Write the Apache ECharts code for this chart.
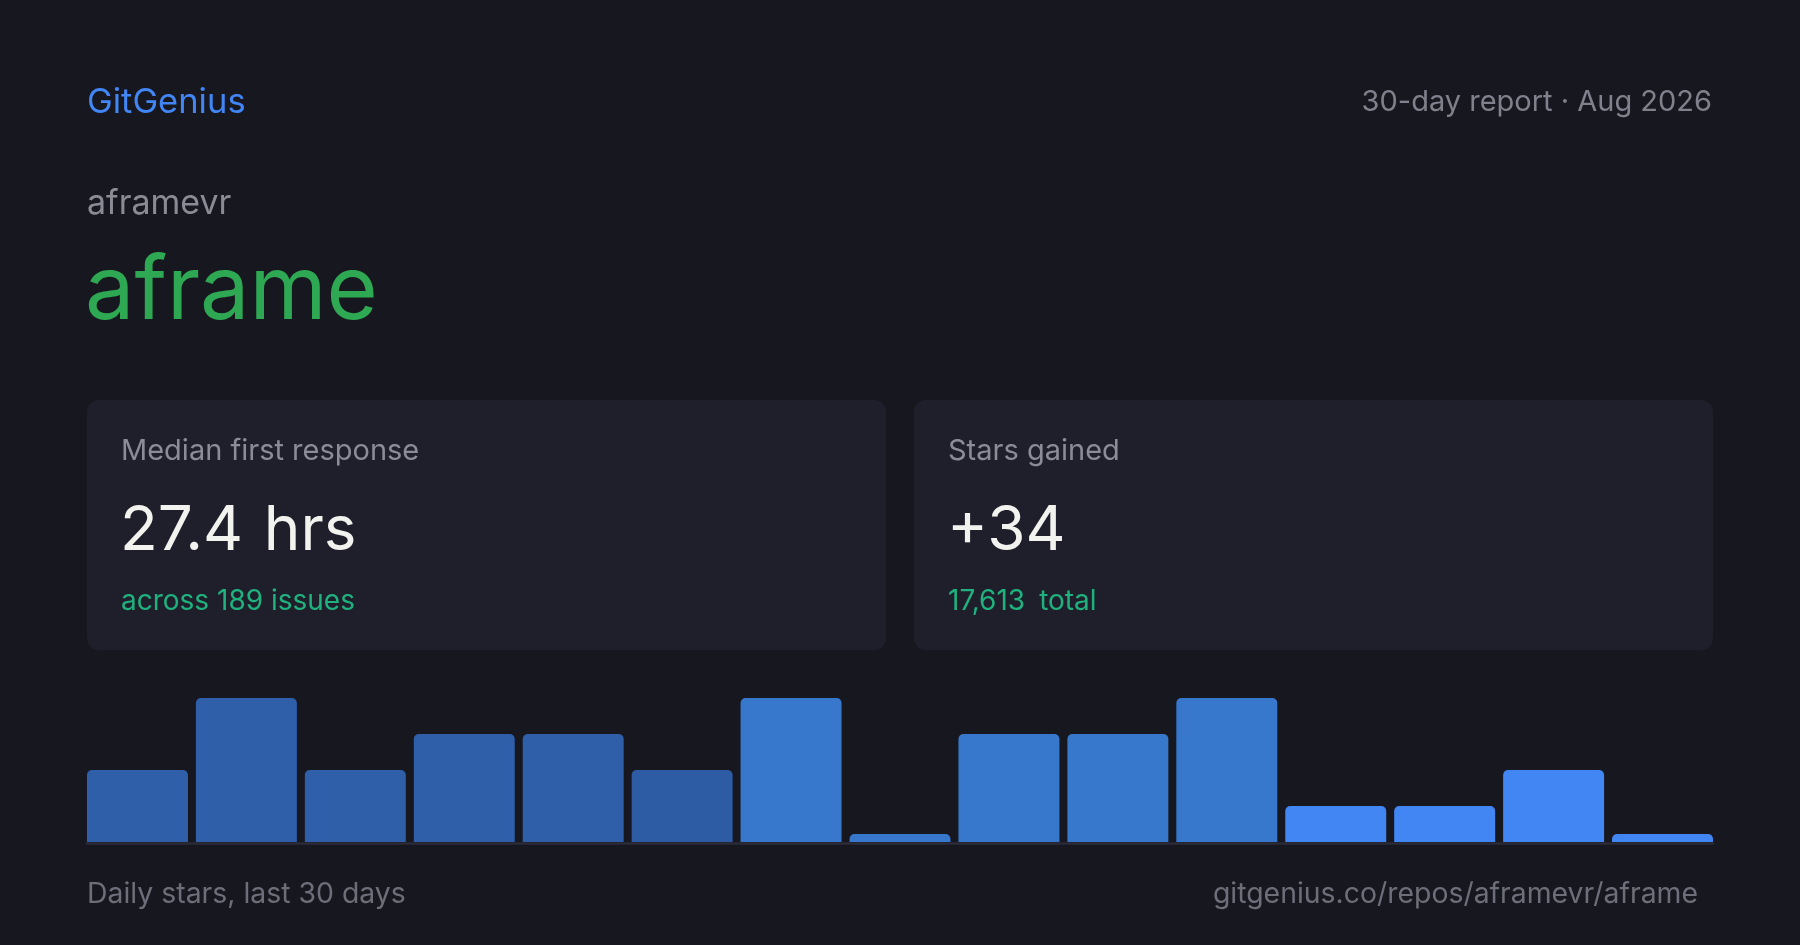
<!DOCTYPE html>
<html>
<head>
<meta charset="utf-8">
<script src="https://cdn.jsdelivr.net/npm/echarts@6/dist/echarts.min.js"></script>
<style>
html,body{margin:0;padding:0;background:#16171f;}
#c{width:1800px;height:945px;}
</style>
</head>
<body>
<div id="c"></div>
<script>
// ---- data ----
const days = ['1','2','3','4','5','6','7','8','9','10','11','12','13','14','15'];
const dailyStars = [2, 4, 2, 3, 3, 2, 4, 0, 3, 3, 4, 1, 1, 2, 0];
const brand = 'GitGenius';
const reportLabel = '30-day report · Aug 2026';
const owner = 'aframevr';
const repo = 'aframe';
const card1 = { label: 'Median first response', value: '27.4\u2004hrs', sub: 'across 189 issues' };
const card2 = { label: 'Stars gained', value: '+34', sub: '17,613\u2002total' };
const footLeft = 'Daily stars, last 30 days';
const footRight = 'gitgenius.co/repos/aframevr/aframe';

// ---- styles ----
const FONT = 'Inter, "Noto Sans", sans-serif';
function barColor(i) {
  if (i < 5) return '#2e5fa8';
  if (i < 6) return '#2d5ca4';
  if (i < 11) return '#3778cc';
  return '#4286f4';
}
function txt(x, y, text, size, color, align) {
  return {
    type: 'text', x: x, y: y, silent: true,
    style: { text: text, fontFamily: FONT, fontSize: size, fill: color,
             align: align || 'left', verticalAlign: 'middle' }
  };
}
function card(x, d) {
  return [
    { type: 'rect', shape: { x: x, y: 400, width: 799, height: 250, r: 12 },
      style: { fill: '#1f1f2b' }, silent: true },
    txt(x + 34, 451, d.label, 29, '#8b8c97'),
    txt(x + 33, 531, d.value, 62, '#f2f2ef'),
    txt(x + 34, 602, d.sub, 28, '#1fb27e')
  ];
}

const chart = echarts.init(document.getElementById('c'));
chart.setOption({
  backgroundColor: '#16171f',
  animation: false,
  grid: [
    { left: 83, right: 83, top: 698, bottom: 103 },
    { left: 87, right: 87, top: 600, bottom: 102 }
  ],
  xAxis: [
    { type: 'category', data: days, gridIndex: 0, show: false },
    { type: 'value', gridIndex: 1, min: 0, max: 1,
      axisLine: { show: true, lineStyle: { color: '#2a2b37', width: 2.5 } },
      axisTick: { show: false }, axisLabel: { show: false }, splitLine: { show: false } }
  ],
  yAxis: [
    { type: 'value', min: 0, max: 4, gridIndex: 0, show: false },
    { type: 'value', gridIndex: 1, show: false }
  ],
  series: [{
    type: 'bar',
    xAxisIndex: 0, yAxisIndex: 0,
    data: dailyStars.map((v, i) => ({ value: v, itemStyle: { color: barColor(i) } })),
    barCategoryGap: '7.3%',
    barMinHeight: 8,
    itemStyle: { borderRadius: [5, 5, 0, 0] },
    z: 3
  }],
  graphic: [
    txt(87, 103, brand, 34.5, '#4285f4'),
    txt(1712, 102, reportLabel, 29, '#80818c', 'right'),
    txt(87, 204, owner, 34, '#8a8b95'),
    txt(85, 293, repo, 88, '#2ea853'),
    ...card(87, card1),
    ...card(914, card2),
    txt(87, 894, footLeft, 28.4, '#6d6e79'),
    txt(1698, 894, footRight, 28.4, '#6d6e79', 'right')
  ]
});
</script>
</body>
</html>
